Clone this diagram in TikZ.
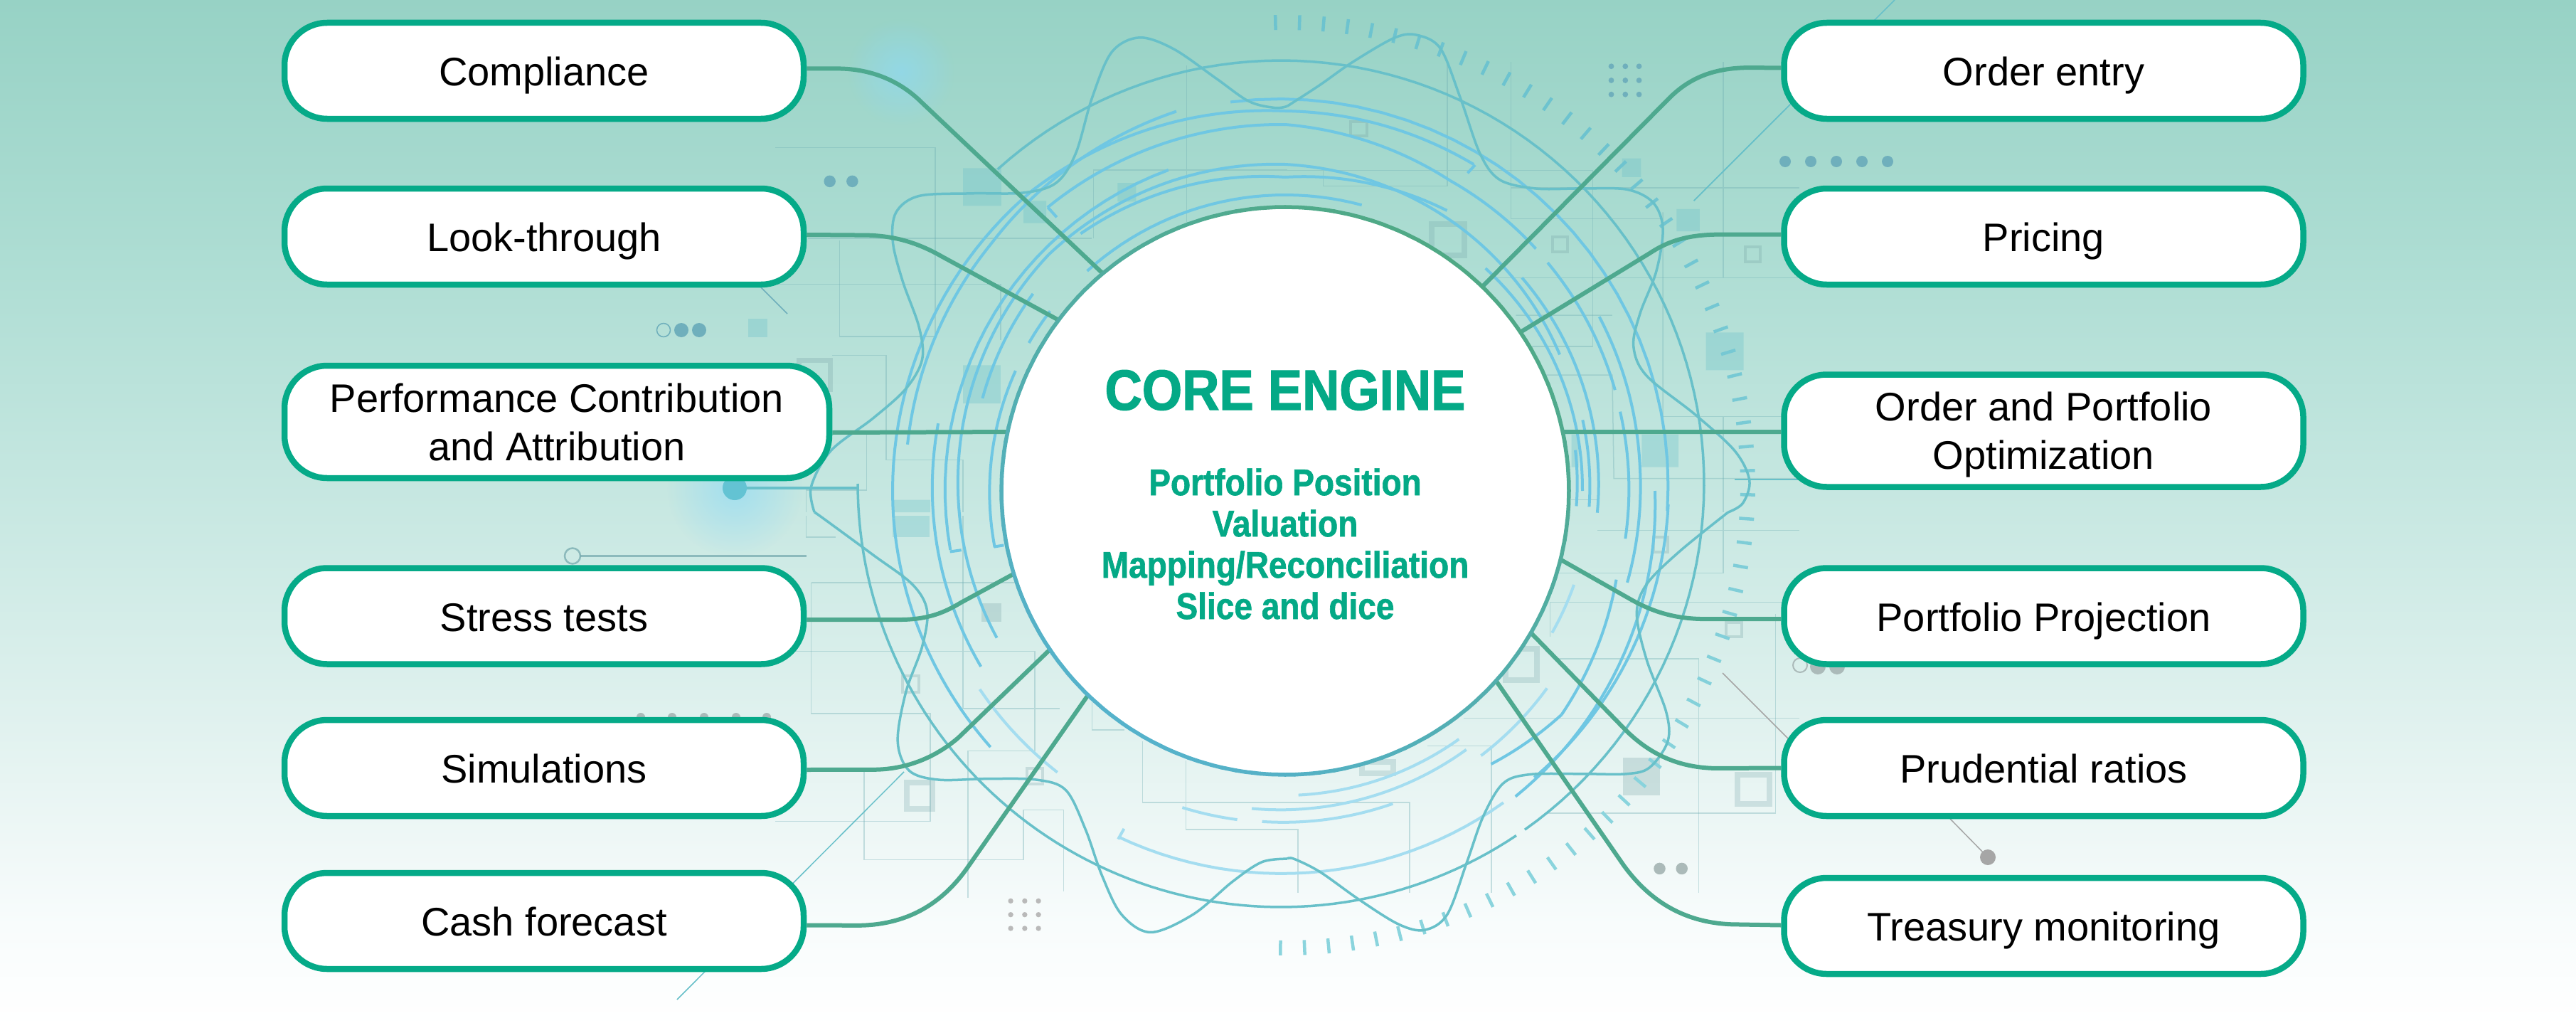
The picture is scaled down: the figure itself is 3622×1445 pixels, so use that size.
\documentclass[tikz,border=0pt]{standalone}
\usepackage{fontspec}
\setmainfont{Liberation Sans}
\newfontfamily\titlefont[FakeStretch=.905,BoldFeatures={FakeBold=1.6}]{Liberation Sans}
\newfontfamily\subfont[FakeStretch=.885,BoldFeatures={FakeBold=1.2}]{Liberation Sans}
\usetikzlibrary{fadings}
\pgfdeclarelayer{back}\pgfsetlayers{back,main}
\definecolor{bgA}{HTML}{FFFFFF}\definecolor{bgB}{HTML}{F8FCFC}\definecolor{bgC}{HTML}{F0F8F7}
\definecolor{bgD}{HTML}{DFF1EE}\definecolor{bgE}{HTML}{C8E8E2}\definecolor{bgF}{HTML}{ADDDD3}\definecolor{bgG}{HTML}{97D2C5}
\pgfdeclareverticalshading{bggrad}{100bp}{color(0bp)=(bgA); color(25bp)=(bgA); color(30bp)=(bgB); color(33.5bp)=(bgC); color(40.4bp)=(bgD); color(50.1bp)=(bgE); color(62.55bp)=(bgF); color(75bp)=(bgG); color(100bp)=(bgG)}
\definecolor{pillc}{HTML}{05AA88}\definecolor{conn}{HTML}{4EA98F}
\definecolor{ringG}{HTML}{4FA985}\definecolor{ringB}{HTML}{55B2CB}
\definecolor{arcb}{HTML}{6FC7E3}\definecolor{arcl}{HTML}{A4DDF0}
\definecolor{wavec}{HTML}{68C0C9}\definecolor{tickA}{HTML}{6DC3CF}\definecolor{tickB}{HTML}{8AD4DD}
\definecolor{coreg}{HTML}{04A986}\definecolor{dotb}{HTML}{6FAFBC}\definecolor{dotg}{HTML}{ABBAB9}\definecolor{dotc}{HTML}{63C3D3}
\tikzfading[name=glowfade,inner color=transparent!40,outer color=transparent!100]
\tikzset{
 x=1pt,y=-1pt,
 pillbase/.style={draw=pillc,line width=8.5pt,fill=white,rounded corners=60pt,inner sep=0pt,text=black,align=center,minimum height=135pt,font=\fontsize{56}{68}\selectfont},
 pill/.style={pillbase,minimum width=730pt,text height=42pt,text depth=0pt},
 pilltwo/.style={pillbase,minimum height=158pt,text depth=-2pt},
 zA/.style={shift={(1090,0)},x=.4592pt,y=-.4592pt},
 zB/.style={shift={(1810,0)},x=.4592pt,y=-.4592pt},
 zC/.style={shift={(1090,725)},x=.4592pt,y=-.4592pt},
 zD/.style={shift={(1810,725)},x=.4592pt,y=-.4592pt},
 connector/.style={draw=conn,line width=6pt,line join=round},
 arcs/.style={draw=arcb,line width=4pt},
 arcz/.style={draw=arcl,line width=4pt},
 wave/.style={draw=wavec,line width=3.5pt},
 wire/.style={draw=wavec!70!gray,line width=1.5pt,opacity=.36},
 sqf/.style={fill=wavec,opacity=.32},
 sqg/.style={fill=wavec!50!gray,opacity=.27},
 sqo/.style={draw=wavec!50!gray,opacity=.28,line width=4pt},
 sqt/.style={draw=wavec!55!gray,opacity=.26,line width=8pt},
}
\newcommand\ringarc[5][arcs]{\draw[#1] plot[domain=#4:#5,samples=28] ({1807+(#2+(#3-(#2))*(\x-(#4))/((#5)-(#4)))*cos(\x)},{690-(#2+(#3-(#2))*(\x-(#4))/((#5)-(#4)))*sin(\x)});}
\begin{document}
\begin{tikzpicture}
\useasboundingbox (0,0) rectangle (3622,1445);
% nodes
\node[pill] (comp) at (765,99.5) {Compliance};
\node[pill] (look) at (765,332.5) {Look-through};
\node[pilltwo,minimum width=766pt] (perf) at (783,593) {Performance Contribution\\and Attribution};
\node[pill] (stress) at (765,866) {Stress tests};
\node[pill] (sim) at (765,1079.5) {Simulations};
\node[pill] (cash) at (765,1294.5) {Cash forecast};
\node[pill] (order) at (2873.5,99.5) {Order entry};
\node[pill] (price) at (2873.5,332.5) {Pricing};
\node[pilltwo,minimum width=730pt] (opt) at (2873.5,605.5) {Order and Portfolio\\Optimization};
\node[pill] (proj) at (2873.5,866) {Portfolio Projection};
\node[pill] (prud) at (2873.5,1079.5) {Prudential ratios};
\node[pill] (treas) at (2873.5,1301.5) {Treasury monitoring};
\node[circle,fill=white,inner sep=0pt,outer sep=0pt,minimum size=798pt] (core) at (1807,690) {};
\foreach \a in {0,2.5,...,357.5}{
 \pgfmathsetmacro\b{\a+2.5}\pgfmathsetmacro\t{50*(1+cos(\a-235))}
 \draw[draw=ringB!\t!ringG,line width=5.5pt,line cap=round] (core.\a) -- (core.\b);
}
\node[anchor=base,text=coreg,inner sep=0pt,font=\titlefont\bfseries\fontsize{80}{80}\selectfont] (title) at (1807,576) {CORE ENGINE};
\node[anchor=base,text=coreg,inner sep=0pt,align=center,font=\subfont\bfseries\fontsize{52}{58}\selectfont] (sub) at (1807,870) {Portfolio Position\\Valuation\\Mapping/Reconciliation\\Slice and dice};
\begin{pgfonlayer}{back}
\shade[shading=bggrad] (0,0) rectangle (3622,1445);
% glows
\fill[cyan!45!white,path fading=glowfade] (1267,101) circle (75);
\fill[cyan!45!white,path fading=glowfade] (1033,688) circle (95);
% wires
\begin{scope}[zA]
\draw[wire] (0,452) -- (490,452) -- (490,1030) -- (197,1030) -- (197,735);
\draw[wire] (100,730) -- (970,730) (0,870) -- (690,870) -- (690,1040);
\draw[wire] (975,730) -- (975,520) -- (1568,520) (1260,200) -- (1260,680);
\draw[wire] (175,1088) -- (340,1088) -- (340,1408) -- (575,1408) -- (575,1568);
\draw[wire] (90,1330) -- (280,1330) -- (280,1500) -- (95,1500) -- (95,1568);
\fill[sqf] (575,515) rectangle (692,630) (760,615) rectangle (830,683) (1048,560) rectangle (1105,617) (575,1118) rectangle (690,1235) (360,1530) rectangle (475,1568);
\draw[sqo,line width=7pt] (72,1102) rectangle (168,1193);
\fill[dotb] (167,555) circle (18) (236,555) circle (18);
\end{scope}
\begin{scope}[zB]
\draw[wire] (0,522) -- (935,522) -- (935,1060) -- (750,1060) (110,522) -- (110,570) -- (490,570) -- (490,190);
\draw[wire] (685,190) -- (685,670) -- (1140,670) (685,575) -- (1568,575) (620,850) -- (1568,850) (1335,190) -- (1335,850);
\draw[wire] (1150,650) -- (1150,1280) (700,965) -- (995,965) (790,1148) -- (995,1148) -- (1000,1465) -- (1568,1465);
\draw[wire] (1150,1275) -- (1568,1275) (1335,1275) -- (1335,1568) (868,1530) -- (950,1530) -- (950,1568);
\fill[sqf] (1025,485) rectangle (1083,542) (1192,640) rectangle (1263,708) (1282,1018) rectangle (1397,1133) (1085,1330) rectangle (1198,1430) (870,1330) rectangle (892,1430);
\draw[sqo] (194,372) rectangle (243,416) (812,726) rectangle (858,771) (1402,756) rectangle (1449,801);
\draw[sqt] (443,686) rectangle (542,782);
\foreach \x in {992,1035,1077}\foreach \y in {203,246,289}{\fill[dotb] (\x,\y) circle (8.5);}
\draw[wave,line width=1.5pt] (1245,615) -- (1540,320);
\draw[wave,line width=1.5pt] (1370,1468) -- (1720,1468);
\end{scope}
\begin{scope}[zC]
\draw[wire] (95,0) -- (95,65) -- (185,65) (110,205) -- (795,205) (110,205) -- (110,605) -- (475,605) -- (475,935) -- (0,935);
\draw[wire] (0,415) -- (795,415) -- (795,720) -- (590,720) -- (590,1170) (575,0) -- (575,590) -- (870,590);
\draw[wire] (272,780) -- (272,1053) -- (760,1053) -- (760,900) -- (883,900) -- (883,1150);
\draw[wire] (970,570) -- (970,655) -- (1070,655) (1125,690) -- (1125,878) -- (1568,878) (1258,750) -- (1258,960) -- (1568,960);
\fill[sqf] (360,0) rectangle (472,65);
\fill[sqg] (632,268) rectangle (693,325);
\draw[sqo] (389,491) rectangle (439,539) (771,774) rectangle (818,821);
\draw[sqt] (403,816) rectangle (482,897);
\foreach \x in {721,764,806}\foreach \y in {1179,1221,1263}{\fill[gray!55] (\x,\y) circle (8);}
\end{scope}
\begin{scope}[zD]
\draw[wire] (950,45) -- (1568,45) (830,175) -- (1335,175) -- (1335,0) (805,370) -- (805,265) -- (1568,265);
\draw[wire] (830,438) -- (1260,438) -- (1260,1155) (540,620) -- (1568,620) (430,705) -- (625,705) -- (625,1155);
\draw[wire] (800,910) -- (1495,910) -- (1495,300) (0,878) -- (375,878) -- (375,1155) (0,960) -- (33,960) -- (33,1155);
\fill[sqg] (1027,740) rectangle (1142,855);
\draw[sqo] (1122,66) rectangle (1164,111) (1344,326) rectangle (1391,371);
\draw[sqt] (1378,793) rectangle (1477,882) (668,408) rectangle (764,504) (228,753) rectangle (324,789);
\fill[dotg] (1140,1080) circle (18) (1208,1080) circle (18);
\end{scope}
% misc in page units
\fill[sqf] (1052,448) rectangle (1079,474);
\draw[draw=dotb,line width=1.5pt,fill=none] (933,464) circle (9.5);
\fill[dotb] (958,464) circle (10) (983,464) circle (10);
\draw[draw=dotb,line width=1.5pt] (1070,404) -- (1107,441);
\draw[draw=gray!40!wavec,line width=2.5pt,opacity=.7] (805,781.5) circle (11);
\draw[draw=gray!40!wavec,line width=2.5pt,opacity=.7] (816,781.5) -- (1134,781.5);
\foreach \x in {901,945,990,1035,1078}{\fill[dotg] (\x,1008) circle (6);}
\draw[wave,line width=1.5pt] (1271,1085) -- (952,1405);
\draw[wave,line width=1.5pt] (2381.6,282) -- (2664,0);
\foreach \x in {2510,2546,2582,2618,2654}{\fill[dotb] (\x,227) circle (8);}
\draw[draw=gray!70,line width=1.5pt] (2422,946) -- (2540,1064) (2742,1151) -- (2795,1205);
\fill[gray!70] (2795,1205) circle (11);
\draw[draw=dotg,line width=2pt] (2531,935) circle (10);
\fill[dotg] (2556,937) circle (11) (2583,937) circle (11);
% ticks
\foreach \k in {0,...,61}{
 \pgfmathsetmacro\a{91.2-2.98*\k}
 \pgfmathsetmacro\t{max(0,min(100,50-\a*1.1))}
 \draw[draw=tickB!\t!tickA,line width=4.5pt] ({1807+640*cos(\a)},{682-640*sin(\a)}) -- ({1807+661*cos(\a)},{682-661*sin(\a)});
}
% big circle
\draw[wave] plot[domain=-180:-56.2,samples=80] ({1801+595*cos(\x)},{680-595*sin(\x)});
\draw[wave] plot[domain=-54.8:132,samples=90] ({1801+595*cos(\x)},{680-595*sin(\x)});
\draw[wave,line width=3.5pt] (1033,686) -- (1206,686);
\fill[dotc] (1033,686) circle (17);
% ring arcs
\ringarc{416}{416}{75}{132}
\ringarc{416}{416}{142.6}{150}
\ringarc{415}{416}{156}{191}
\ringarc{455}{441}{60}{90}
\ringarc{441}{462}{90}{128.5}
\ringarc{431}{445}{26.4}{57}
\ringarc{445}{459}{57}{90}
\ringarc{459}{470}{90}{135}
\ringarc{470}{460}{135}{180}
\ringarc{460}{455}{180}{207}
\ringarc{480}{478}{110}{190}
\ringarc{450}{445}{142}{163}
\ringarc{497}{494}{169}{210}
\ringarc{515}{520}{90}{130}
\ringarc{494}{515}{62}{90}
\ringarc{490}{494}{44}{62}
\ringarc{485}{489}{17}{41}
\ringarc{483}{484}{-8}{13.3}
\ringarc{530}{534}{60}{90}
\ringarc{534}{552}{90}{130}
\ringarc{552}{552}{130}{184}
\ringarc{552}{549}{184}{221}
\ringarc{538}{552}{-3}{98}
\ringarc{555}{540}{106}{140}
\ringarc{540}{535}{140}{173}
\ringarc{500}{505}{4}{29}
\ringarc{498}{500}{-15}{4}
\ringarc{500}{482}{-39}{-15}
\ringarc{481}{500}{-53}{-39}
\ringarc{440}{448}{-4}{42}
\ringarc{428}{430}{-3}{13.4}
\ringarc{410}{412}{-3}{8}
\ringarc{418}{421}{0}{48}
\ringarc[arcz]{425}{427}{-28}{-18}
\ringarc[arcz]{463}{461}{-53.5}{-37}
\ringarc[arcz]{428}{426}{-87.5}{-55}
\ringarc[arcz]{449}{444}{-96}{-55}
\ringarc[arcz]{466}{465}{-94}{-71}
\ringarc[arcz]{468}{467}{-108}{-98.3}
\ringarc[arcz]{540}{535}{-115.7}{-55}
\ringarc{538}{520}{-53}{0}
\ringarc{534}{539}{-49}{-2}
\ringarc[arcz]{512}{509}{213}{231}
% hooks and waves
\begin{scope}[zA]
\draw[arcs] (835,635) -- (862,665);
\draw[wave] plot[smooth,tension=.55] coordinates {(120,1568) (110,1490) (170,1380) (300,1280) (400,1190) (450,1100) (440,1000) (390,860) (360,740) (370,650) (440,600) (600,592) (760,590) (860,560) (920,470) (970,300) (1030,160) (1115,115) (1220,150) (1350,240) (1450,310) (1530,330) (1568,325)};
\end{scope}
\begin{scope}[zB]
\draw[arcs] (575,505) -- (552,530);
\draw[wave] plot[smooth,tension=.55] coordinates {(0,325) (100,260) (200,190) (330,115) (400,108) (470,150) (530,300) (590,470) (650,550) (760,577) (900,577) (1040,580) (1120,620) (1150,700) (1130,830) (1080,960) (1060,1060) (1100,1150) (1250,1270) (1370,1380) (1415,1470) (1395,1540) (1350,1568)};
\end{scope}
\begin{scope}[zC]
\draw[arcs] (535,110) -- (570,105) (670,95) -- (700,90);
\draw[arcz] (1050,990) -- (1068,958);
\draw[wave] plot[smooth,tension=.55] coordinates {(1568,1050) (1490,1060) (1400,1120) (1280,1220) (1150,1275) (1060,1220) (1000,1100) (950,960) (890,840) (800,808) (650,805) (500,808) (410,780) (375,690) (400,540) (450,400) (465,290) (420,210) (300,120) (150,10) (120,-11)};
\end{scope}
\begin{scope}[zD]
\draw[wave] plot[smooth,tension=.55] coordinates {(1350,-11) (1200,110) (1100,210) (1070,300) (1100,440) (1160,600) (1165,690) (1110,770) (1040,790) (900,790) (740,792) (660,820) (600,920) (550,1060) (490,1220) (420,1268) (340,1250) (220,1175) (100,1090) (20,1050) (0,1050)};
\end{scope}
% connectors
\begin{scope}[zA]
\draw[connector] ([yshift=3pt]comp.east) -- (190,210) .. controls (290,210) and (380,245) .. (450,315) -- (core.130.7);
\draw[connector] ([yshift=2.5pt]look.east) -- (280,720) .. controls (370,722) and (440,745) .. (510,785) -- (core.143.5);
\draw[connector] ([yshift=-15pt]perf.east) -- (core.168);
\end{scope}
\begin{scope}[zB]
\draw[connector] ([yshift=4pt]order.west) -- (1420,207) .. controls (1320,207) and (1240,230) .. (1170,300) -- (core.46.5);
\draw[connector] ([yshift=3pt]price.west) -- (1310,718) .. controls (1230,720) and (1170,735) .. (1110,775) -- (core.34.4);
\draw[connector] ([yshift=-1.5pt]opt.west) -- (core.12);
\end{scope}
\begin{scope}[zC]
\draw[connector] ([yshift=-5pt]stress.east) -- (380,318) .. controls (470,318) and (520,295) .. (570,265) -- (core.197.1);
\draw[connector] ([yshift=-2.5pt]sim.east) -- (300,777) .. controls (400,777) and (490,740) .. (560,680) -- (core.214.3);
\draw[connector] ([yshift=-6pt]cash.east) -- (250,1254) .. controls (400,1254) and (510,1190) .. (590,1075) -- (core.226.3);
\end{scope}
\begin{scope}[zD]
\draw[connector] ([yshift=-4pt]proj.west) -- (1280,316) .. controls (1190,316) and (1120,295) .. (1050,255) -- (core.-14.9);
\draw[connector] (prud.west) -- (1320,773) .. controls (1200,773) and (1110,730) .. (1035,655) -- (core.-30.8);
\draw[connector] ([yshift=1pt]treas.west) -- (1380,1251) .. controls (1220,1251) and (1110,1180) .. (1030,1070) -- (core.-42.4);
\end{scope}
\end{pgfonlayer}
\end{tikzpicture}
\end{document}
